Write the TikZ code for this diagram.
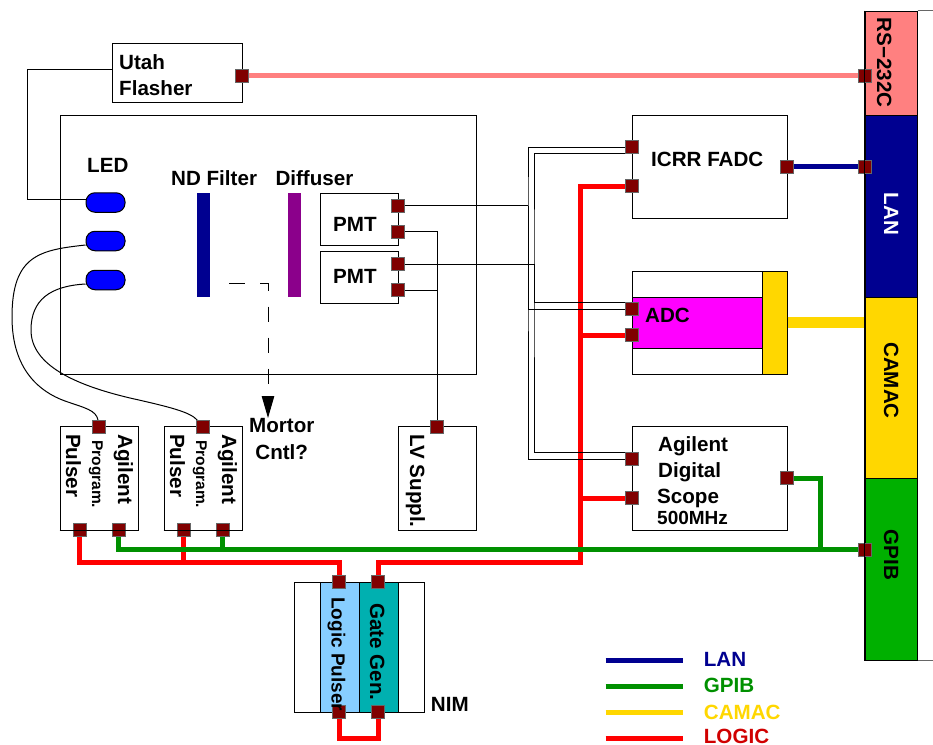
\documentclass[tikz,border=0pt]{standalone}
\usepackage{fontspec}
\setmainfont{Liberation Sans}
\usepackage{xcolor}
\usepackage{tikz}
\usetikzlibrary{shapes,arrows.meta,calc}
\definecolor{portred}{HTML}{800000}
\definecolor{lanblue}{HTML}{000090}
\definecolor{gpibgreen}{HTML}{009000}
\definecolor{busgreen}{HTML}{00B000}
\definecolor{rspink}{HTML}{FF8080}
\definecolor{camacgold}{HTML}{FFD700}
\definecolor{logicdark}{HTML}{D00000}
\definecolor{pulserblue}{HTML}{87CEFF}
\definecolor{gateteal}{HTML}{00B0B0}
\definecolor{filterpurple}{HTML}{8B008B}
\definecolor{adcmagenta}{HTML}{FF00FF}

\begin{document}
\begin{tikzpicture}[x=1pt, y=-1pt, node distance = 26pt]
	\tikzstyle{box} = [rectangle, draw, fill=white, line width=1pt, inner sep=0pt]
	\tikzstyle{bar} = [rectangle, fill=lanblue, inner sep=0pt, minimum width=13pt, minimum height=104pt]
	\tikzstyle{led} = [rectangle, draw, fill=blue, rounded corners=9pt, line width=1pt, inner sep=0pt, minimum width=39pt, minimum height=19.5pt]
	\tikzstyle{port} = [rectangle, inner sep=0pt, outer sep=0pt, minimum size=13pt]
	\tikzstyle{portface} = [draw=black!60, fill=portred, line width=1pt]
	\tikzstyle{tag} = [inner sep=0pt, anchor=base west, font=\bfseries\fontsize{20.6}{24}\selectfont]
	\tikzstyle{vtag} = [tag, rotate=-90]
	\tikzstyle{bustag} = [tag, anchor=base, rotate=-90]
	\tikzstyle{line} = [draw, line width=1pt]
	\tikzstyle{wire} = [draw, line width=5pt]
	\useasboundingbox (0,0) rectangle (933,744);
	% Place nodes
	\node [box, minimum width=130pt, minimum height=59pt] (flasher) at (177,72.5) {};
	\node [box, minimum width=416pt, minimum height=259pt] (dark) at (268,244.5) {};
	\node [led] (leda) at (105.5,202.5) {};
	\node [led, below of=leda, node distance=38.5pt] (ledb) {};
	\node [led, below of=ledb, node distance=39pt] (ledc) {};
	\node [bar] (filter) at (203.5,245) {};
	\node [bar, fill=filterpurple, right of=filter, node distance=91pt] (diffuser) {};
	\node [box, minimum width=78pt, minimum height=52pt] (pmta) at (359,219) {};
	\node [box, minimum width=78pt, minimum height=52pt, below of=pmta, node distance=58pt] (pmtb) {};
	\node [box, minimum width=78pt, minimum height=104pt] (pulsera) at (99,478) {};
	\node [box, minimum width=78pt, minimum height=104pt, right of=pulsera, node distance=104pt] (pulserb) {};
	\node [box, minimum width=78pt, minimum height=104pt] (supply) at (437,478) {};
	\node [box, minimum width=130pt, minimum height=130pt] (nim) at (359,647) {};
	\node [box, fill=pulserblue, minimum width=39pt, minimum height=130pt] (logic) at (339.5,647) {};
	\node [box, fill=gateteal, minimum width=39pt, minimum height=130pt, right of=logic, node distance=39pt] (gate) {};
	\node [box, minimum width=155pt, minimum height=103pt] (fadc) at (709.5,166.5) {};
	\node [box, minimum width=155pt, minimum height=103pt, below of=fadc, node distance=156pt] (adc) {};
	\node [box, fill=adcmagenta, minimum width=130pt, minimum height=51pt] (adcbody) at (697,322.5) {};
	\node [box, fill=camacgold, minimum width=25pt, minimum height=103pt] (adccard) at (774.5,322.5) {};
	\node [box, minimum width=155pt, minimum height=104pt, below of=adc, node distance=155.5pt] (scope) {};
	\node [box, fill=rspink, minimum width=52pt, minimum height=104pt] (rsbus) at (891,63) {};
	\node [box, fill=lanblue, minimum width=52pt, minimum height=182pt] (lanbus) at (891,206) {};
	\node [box, fill=camacgold, minimum width=52pt, minimum height=181pt] (camacbus) at (891,387.5) {};
	\node [box, fill=busgreen, minimum width=52pt, minimum height=182pt] (gpibbus) at (891,569) {};
	% Place ports
	\node [port] (flasherout) at (242,75.7) {};
	\node [port] (pmtasig) at (398,205.7) {};
	\node [port, below of=pmtasig] (pmtahv) {};
	\node [port] (pmtbsig) at (398,264) {};
	\node [port, below of=pmtbsig] (pmtbhv) {};
	\node [port] (pulseraout) at (99.3,426.5) {};
	\node [port] (pulserbout) at (203,426.5) {};
	\node [port] (pulseratrig) at (79.7,530) {};
	\node [port, right of=pulseratrig, node distance=39pt] (pulseragpib) {};
	\node [port] (pulserbtrig) at (183.7,530) {};
	\node [port, right of=pulserbtrig, node distance=39pt] (pulserbgpib) {};
	\node [port] (supplyin) at (437,426.5) {};
	\node [port] (logicin) at (339.3,582) {};
	\node [port, right of=logicin, node distance=39pt] (gatein) {};
	\node [port] (logicout) at (339.3,712) {};
	\node [port, right of=logicout, node distance=39pt] (gateout) {};
	\node [port] (fadcsig) at (632,147) {};
	\node [port] (fadcgate) at (632,186) {};
	\node [port] (fadclan) at (787,166.7) {};
	\node [port] (adcsig) at (632,309) {};
	\node [port, below of=adcsig] (adcgate) {};
	\node [port] (scopesig) at (632,459) {};
	\node [port] (scopegate) at (632,498) {};
	\node [port] (scopegpib) at (787,478) {};
	\node [port] (rsin) at (865,75.7) {};
	\node [port] (lanin) at (865,166.7) {};
	\node [port] (gpibin) at (865,549.7) {};
	% Place bends
	\coordinate (flasherbend) at (27.7,69);
	\coordinate (outerbus) at (528,205.7);
	\coordinate (innerbus) at (534,264);
	\coordinate (logicbus) at (580,562.7);
	\coordinate (pulserbus) at (183.7,562.7);
	\coordinate (gpibbend) at (820,549.7);
	\coordinate (motorbend) at (268,283.7);
	\coordinate (motorstart) at (229,283.7);
	\coordinate (motorstop) at (268,418);
	\coordinate (linkleft) at (339.3,738);
	% Draw edges
	\path [wire, rspink] (flasherout) -- (rsin);
	\path [wire, lanblue] (fadclan) -- (lanin);
	\path [draw, line width=11pt, camacgold] (adccard.east) -- (adccard.east -| camacbus.west);
	\path [wire, red] (fadcgate) -| (logicbus) -| (gatein);
	\path [wire, red] (adcgate) -| (logicbus);
	\path [wire, red] (scopegate) -| (logicbus);
	\path [wire, red] (pulseratrig) |- (pulserbus) -| (logicin);
	\path [wire, red] (pulserbtrig) -- (pulserbus);
	\path [wire, red] (logicout) |- (linkleft) -| (gateout);
	\path [wire, gpibgreen] (pulseragpib) |- (gpibin);
	\path [wire, gpibgreen] (pulserbgpib) -- (pulserbgpib |- gpibin);
	\path [wire, gpibgreen] (scopegpib) -| (gpibbend);
	\path [line] ([yshift=3.5pt]flasher.west) -- (flasherbend) |- ([yshift=3pt]leda.west);
	\path [line] (ledb.west)+(0,4) .. controls (40,250) and (12,255) .. (12,317) .. controls (12,370) and (40,392) .. (65,401) .. controls (85,408) and (96,410) .. (pulseraout);
	\path [line] (ledc.west)+(0,4) .. controls (50,286) and (31,300) .. (31,330) .. controls (31,365) and (75,385) .. (130,398) .. controls (170,407) and (190,412) .. (pulserbout);
	\path [line] (pmtasig) -- (outerbus);
	\path [line] (pmtbsig) -- (innerbus);
	\path [line] (fadcsig) -| (outerbus) |- (scopesig);
	\path [line] (fadcsig.south west) -| (innerbus) |- (scopesig.north west);
	\path [line] (adcsig) -| (outerbus);
	\path [line] (adcsig.north west) -| (innerbus);
	\path [line] (pmtahv) -| (supplyin);
	\path [line] (pmtbhv) -| (supplyin);
	\path [draw, line width=1pt, dash pattern=on 15.5pt off 15.5pt, -{Triangle[length=22pt,width=12.5pt]}] (motorstart) -- (motorbend) -- (motorstop);
	% Draw ports above the wires
	\foreach \name in {flasherout,pmtasig,pmtahv,pmtbsig,pmtbhv,pulseraout,pulserbout,pulseratrig,pulseragpib,pulserbtrig,pulserbgpib,supplyin,logicin,gatein,logicout,gateout,fadcsig,fadcgate,fadclan,adcsig,adcgate,scopesig,scopegate,scopegpib,rsin,lanin,gpibin}
		\path [portface] (\name.south west) rectangle (\name.north east);
	\path [line] (pulsera.south west) -- (pulsera.south east);
	\path [line] (pulserb.south west) -- (pulserb.south east);
	\path [line] (rsbus.north west) -- (gpibbus.south west);
	\path [draw, line width=1pt, black!60] (rsbus.north east) -- +(16,0);
	\path [draw, line width=1pt, black!60] (gpibbus.south east) -- +(16,0);
	% Place labels
	\node [tag] (flashertext) at (119,69) {Utah};
	\node [tag] (flashertextb) at (119,95) {Flasher};
	\node [tag] (ledtext) at (87,172.7) {LED};
	\node [tag] (filtertext) at (171,185.7) {ND Filter};
	\node [tag] (diffusertext) at (275.3,185.7) {Diffuser};
	\node [tag] (pmtatext) at (333,231.7) {PMT};
	\node [tag] (pmtbtext) at (333,283.5) {PMT};
	\node [tag] (motortext) at (249,432.7) {Mortor};
	\node [tag, anchor=base] (motortextb) at (281.7,459) {Cntl?};
	\node [vtag] (pulseratext) at (118,434) {Agilent};
	\node [vtag, font=\bfseries\fontsize{15.5}{18}\selectfont] (pulseratextb) at (92,440) {Program.};
	\node [vtag] (pulseratextc) at (66,434) {Pulser};
	\node [vtag] (pulserbtext) at (222,434) {Agilent};
	\node [vtag, font=\bfseries\fontsize{15.5}{18}\selectfont] (pulserbtextb) at (196,440) {Program.};
	\node [vtag] (pulserbtextc) at (170,434) {Pulser};
	\node [vtag] (supplytext) at (410,434) {LV Suppl.};
	\node [vtag, font=\bfseries\fontsize{19}{22}\selectfont] (logictext) at (331.7,597) {Logic Pulser};
	\node [vtag] (gatetext) at (370,603) {Gate Gen.};
	\node [tag] (nimtext) at (430.7,711.7) {NIM};
	\node [tag] (fadctext) at (651,166.7) {ICRR FADC};
	\node [tag] (adctext) at (645,322.7) {ADC};
	\node [tag] (scopetext) at (658,451.7) {Agilent};
	\node [tag] (scopetextb) at (658,477.7) {Digital};
	\node [tag] (scopetextc) at (657,503.3) {Scope};
	\node [tag, font=\bfseries\fontsize{19}{22}\selectfont] (scopetextd) at (657,524) {500MHz};
	\node [bustag] (rstext) at (877,62.5) {RS−232C};
	\node [bustag, white] (lantext) at (884,214) {LAN};
	\node [bustag] (camactext) at (884,380.5) {CAMAC};
	\node [bustag] (gpibtext) at (884,555) {GPIB};
	% Legend
	\coordinate (keya) at (605.7,660);
	\coordinate (keyb) at (605.7,686);
	\coordinate (keyc) at (605.7,712);
	\coordinate (keyd) at (605.7,738);
	\node [tag, lanblue] (lankey) at (703.7,666.7) {LAN};
	\node [tag, gpibgreen] (gpibkey) at (703.7,692.7) {GPIB};
	\node [tag, camacgold] (camackey) at (703.7,719) {CAMAC};
	\node [tag, logicdark] (logickey) at (703.7,743) {LOGIC};
	\path [wire, lanblue] (keya) -- +(77.3,0);
	\path [wire, gpibgreen] (keyb) -- +(77.3,0);
	\path [wire, camacgold] (keyc) -- +(77.3,0);
	\path [wire, red] (keyd) -- +(77.3,0);
\end{tikzpicture}
\end{document}
